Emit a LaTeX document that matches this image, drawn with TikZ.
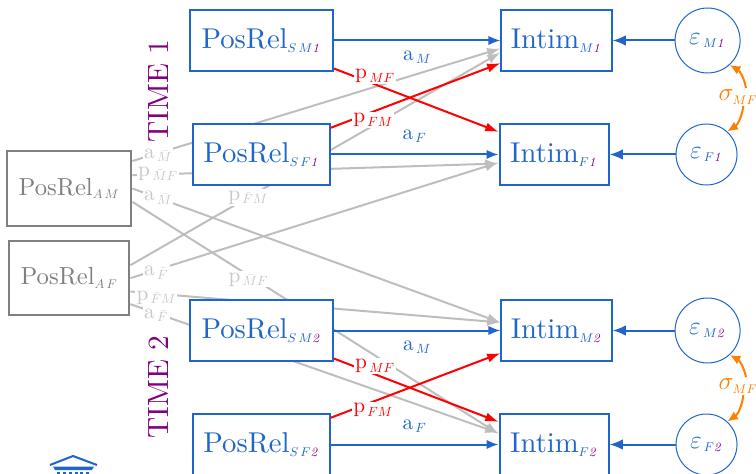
\documentclass[tikz,border=0pt]{standalone}
\usepackage{fix-cm}
\usepackage{amsmath,amssymb}
\usepackage[no-math]{fontspec}
\setmainfont{lmroman10-regular.otf}
\usepackage{xcolor}
\usetikzlibrary{arrows.meta,positioning,backgrounds}
\definecolor{relblue}{RGB}{31,102,204}
\definecolor{timepurple}{RGB}{128,0,128}
\definecolor{sigorange}{RGB}{255,128,0}
\definecolor{lineGray}{RGB}{190,190,190}
\definecolor{labelGray}{RGB}{200,200,200}
\DeclareMathSizes{21.5}{21.5}{9.5}{7}
\DeclareMathSizes{18.5}{18.5}{9.5}{7}
\DeclareMathSizes{19}{19}{9.5}{7}
\DeclareMathSizes{16}{16}{10}{7}
\newcommand{\one}{\textcolor{timepurple}{\mathit{1}}}
\newcommand{\two}{\textcolor{timepurple}{\mathit{2}}}

\begin{document}
\begin{tikzpicture}[
  x=0.75pt, y=-0.75pt,
  sbox/.style={draw=relblue, line width=1.5pt, fill=white, text=relblue, minimum height=45.25pt,
            inner xsep=8.5pt, inner ysep=4pt, font=\fontsize{21.5}{26}\selectfont},
  fbox/.style={sbox, inner xsep=7.5pt},
  ibox/.style={sbox, inner xsep=7pt},
  jbox/.style={sbox, inner xsep=8pt},
  abox/.style={draw=gray, line width=1.5pt, fill=white, text=gray, minimum height=55.75pt,
            inner xsep=9pt, inner ysep=4pt, font=\fontsize{18.5}{22}\selectfont},
  errc/.style={draw=relblue, line width=0.75pt, circle, fill=white, text=relblue, inner sep=0pt,
            font=\fontsize{19}{22}\selectfont},
  blueln/.style={draw=relblue, line width=1.5pt, -{Latex[length=9pt,width=7pt]}},
  errln/.style={draw=relblue, line width=1.5pt, -{Latex[length=10pt,width=8pt]}},
  redln/.style={draw=red, line width=1.5pt, -{Latex[length=10pt,width=7pt]}},
  grayln/.style={draw=lineGray, line width=1.5pt, -{Latex[length=10pt,width=7pt]}},
  sigln/.style={draw=sigorange, line width=1.5pt, -{Latex[length=8pt,width=7pt]}},
  lab/.style={font=\fontsize{16}{18}\selectfont, inner sep=1pt},
  bluelab/.style={lab, text=relblue},
  redlab/.style={lab, text=red, fill=white},
  graylab/.style={lab, text=labelGray, fill=white},
  siglab/.style={font=\fontsize{19}{22}\selectfont, inner sep=1pt, text=sigorange},
  timelab/.style={rotate=90, text=timepurple, font=\fontsize{22}{25}\selectfont}]
\useasboundingbox (0,0) rectangle (756,474);

% time 1
\node[sbox] (sm1) at (261.5,40.5) {PosRel$_{S\,M\one}$};
\node[fbox, below=38.75pt of sm1] (sf1) {PosRel$_{S\,F\one}$};
\node[ibox, right=125pt of sm1] (im1) {Intim$_{M\one}$};
\node[jbox, right=126pt of sf1] (if1) {Intim$_{F\one}$};
\node[errc, minimum size=48.75pt, right=46.5pt of im1] (em1) {$\varepsilon_{\,M\one}$};
\node[errc, minimum size=45.75pt, right=49.5pt of if1] (ef1) {$\varepsilon_{\,F\one}$};
% time 2
\node[sbox, below=85.25pt of sf1] (sm2) {PosRel$_{S\,M\two}$};
\node[fbox, below=38.75pt of sm2] (sf2) {PosRel$_{S\,F\two}$};
\node[ibox, right=125pt of sm2] (im2) {Intim$_{M\two}$};
\node[jbox, right=126pt of sf2] (if2) {Intim$_{F\two}$};
\node[errc, minimum size=48.75pt, right=46.5pt of im2] (em2) {$\varepsilon_{\,M\two}$};
\node[errc, minimum size=45.75pt, right=49.5pt of if2] (ef2) {$\varepsilon_{\,F\two}$};
% averages
\node[abox] (am) at (69,188.5) {PosRel$_{A\,M}$};
\node[abox, below=10pt of am] (af) {PosRel$_{A\,F}$};

\node[timelab] (time1) at (158,91) {TIME 1};
\node[timelab] (time2) at (158,387) {TIME 2};

\begin{scope}[on background layer]
\draw[grayln] ([yshift=20.6pt]am.east)--node[graylab,pos=.07,yshift=-1.5pt]{a$_{\,\bar{M}}$}([yshift=-6pt]im1.west);
\draw[grayln] ([yshift=10pt]am.east)--node[graylab,pos=.07]{p$_{\,\bar{M}F}$}([yshift=-6.75pt]if1.west);
\draw[grayln] (am.east)--node[graylab,pos=.07]{a$_{\,\bar{M}}$}([yshift=6pt]im2.west);
\draw[grayln] ([yshift=-10pt]am.east)--node[graylab,pos=.317,yshift=-3pt]{p$_{\,\bar{M}F}$}([yshift=8pt]if2.west);
\draw[grayln] ([yshift=9.75pt]af.east)--node[graylab,pos=.318]{p$_{\,\bar{F}M}$}([yshift=-9pt]im1.west);
\draw[grayln] (af.east)--node[graylab,pos=.07,yshift=-2pt]{a$_{\,\bar{F}}$}([yshift=-6pt]if1.west);
\draw[grayln] ([yshift=-10pt]af.east)--node[graylab,pos=.07,yshift=-3pt]{p$_{\,\bar{F}M}$}([yshift=6pt]im2.west);
\draw[grayln] ([yshift=-19.5pt]af.east)--node[graylab,pos=.07,yshift=-1.5pt]{a$_{\,\bar{F}}$}([yshift=8.6pt]if2.west);
\end{scope}

\draw[blueln] (sm1)--node[bluelab,below=6pt]{a$_{\,M}$}(im1);
\draw[blueln] (sf1)--node[bluelab,above=7pt]{a$_{\,F}$}(if1);
\draw[blueln] (sm2)--node[bluelab,below=6pt]{a$_{\,M}$}(im2);
\draw[blueln] (sf2)--node[bluelab,above=7pt]{a$_{\,F}$}(if2);
\draw[redln] ([yshift=-21pt]sm1.east)--node[redlab,pos=.25,yshift=6pt]{p$_{\,MF}$}([yshift=17pt]if1.west);
\draw[redln] ([yshift=20pt]sf1.east)--node[redlab,pos=.25,yshift=-6.5pt]{p$_{\,FM}$}([yshift=-17pt]im1.west);
\draw[redln] ([yshift=-21pt]sm2.east)--node[redlab,pos=.25,yshift=6pt]{p$_{\,MF}$}([yshift=17pt]if2.west);
\draw[redln] ([yshift=20pt]sf2.east)--node[redlab,pos=.25,yshift=-6.5pt]{p$_{\,FM}$}([yshift=-17pt]im2.west);
\draw[errln] (em1)--(im1);
\draw[errln] (ef1)--(if1);
\draw[errln] (em2)--(im2);
\draw[errln] (ef2)--(if2);

\node[siglab] (sig1) at (738,97) {$\sigma_{MF}$};
\node[siglab] (sig2) at (738,386) {$\sigma_{MF}$};
\draw[sigln] ([xshift=6pt]sig1.north) to[bend right=25] (em1.-48);
\draw[sigln] ([xshift=4pt]sig1.south) to[bend left=25] (ef1.48);
\draw[sigln] ([xshift=6pt]sig2.north) to[bend right=25] (em2.-48);
\draw[sigln] ([xshift=4pt]sig2.south) to[bend left=25] (ef2.48);

% icon
\draw[relblue, line width=1.5pt] (50,465)--(73,456)--(97,465);
\fill[relblue] (53,466.5)--(94,466.5)--(92,470)--(55,470)--cycle;
\draw[relblue, line width=1.5pt, dash pattern=on 2.2pt off 2.2pt] (57,473)--(92,473);
\end{tikzpicture}
\end{document}
